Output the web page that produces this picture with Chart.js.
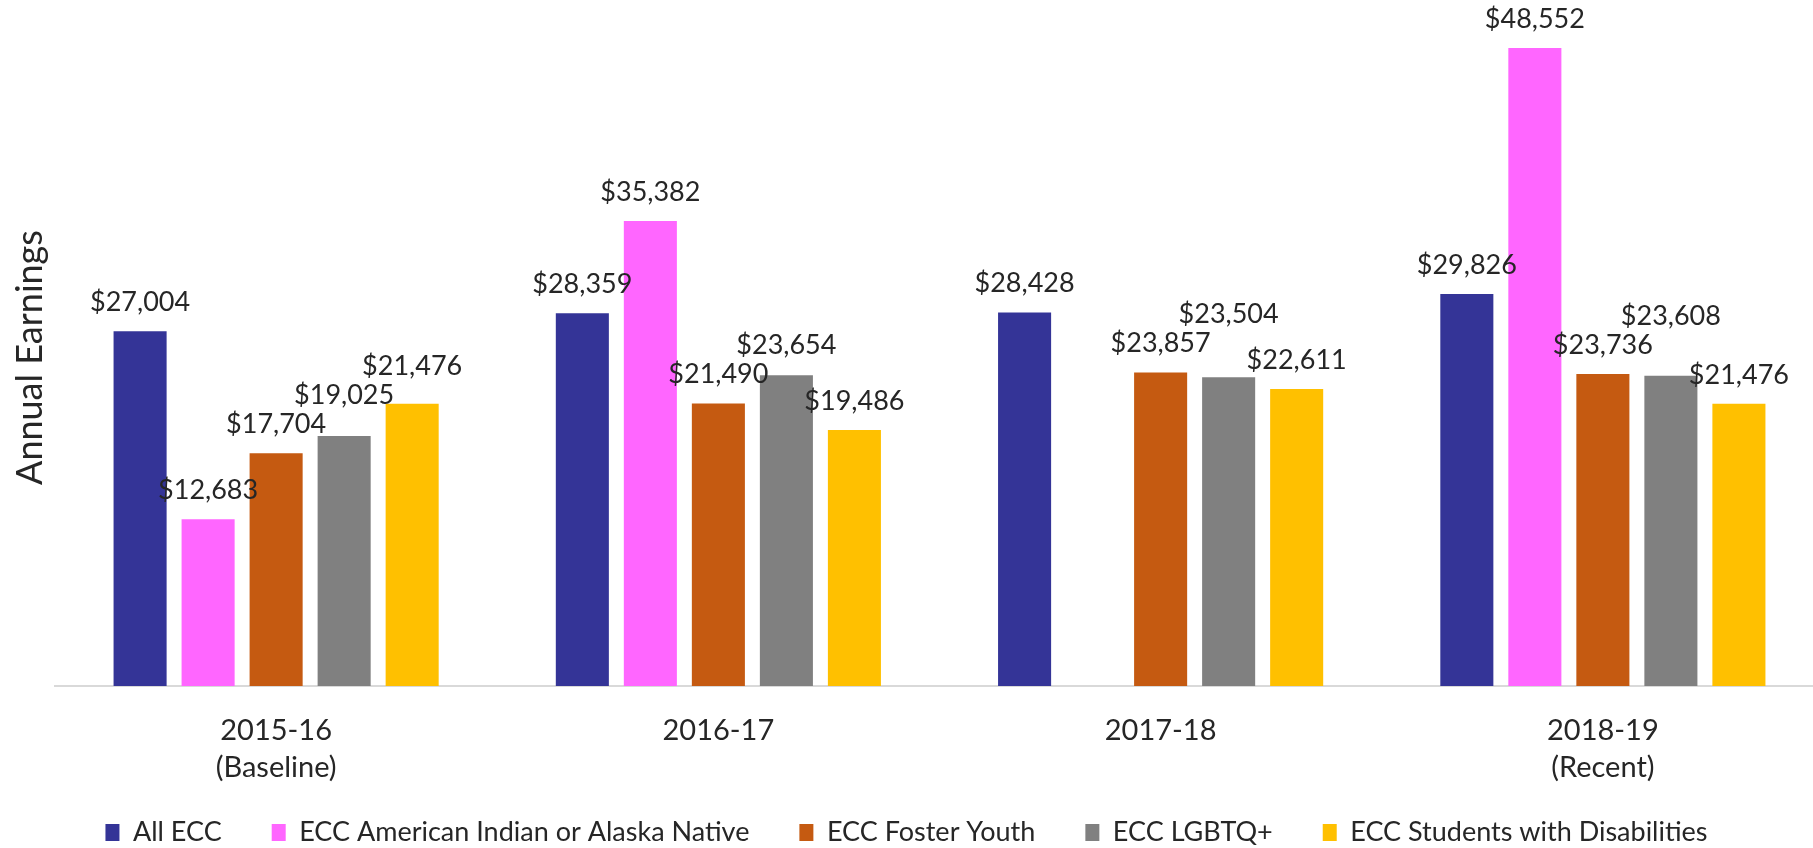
<!DOCTYPE html>
<html>
<head>
<meta charset="utf-8">
<title>Annual Earnings</title>
<script src="https://cdn.jsdelivr.net/npm/chart.js@4.4.1/dist/chart.umd.min.js"></script>
<style>
  html, body { margin: 0; padding: 0; background: #fff; }
  canvas { display: block; }
</style>
</head>
<body>
<canvas id="chart" width="1813" height="848"></canvas>
<script>
// data
const categories = [["2015-16", "(Baseline)"], "2016-17", "2017-18", ["2018-19", "(Recent)"]];
const allEcc       = [27004, 28359, 28428, 29826];
const aian         = [12683, 35382, null, 48552];
const fosterYouth  = [17704, 21490, 23857, 23736];
const lgbtq        = [19025, 23654, 23504, 23608];
const disabilities = [21476, 19486, 22611, 21476];

const FONT = "Lato, 'Open Sans', sans-serif";
const TEXT = "#262626";

const money = (v) => "$" + v.toLocaleString("en-US");

// value labels above the bars, nudged up when they run into the previous one
const valueLabels = {
  id: "valueLabels",
  afterDatasetsDraw(chart) {
    const { ctx } = chart;
    const lineH = 29;
    ctx.save();
    ctx.font = "27px " + FONT;
    ctx.fillStyle = TEXT;
    ctx.textAlign = "center";
    ctx.textBaseline = "middle";
    categories.forEach((c, i) => {
      let prev = null;
      chart.data.datasets.forEach((ds, d) => {
        const v = ds.data[i];
        if (v == null) return;
        const bar = chart.getDatasetMeta(d).data[i];
        const text = money(v);
        const w = ctx.measureText(text).width;
        let y = bar.y - 29;
        if (prev && Math.abs(prev.y - y) < lineH && bar.x - w / 2 < prev.x + prev.w / 2) {
          y = prev.y - lineH;
        }
        ctx.fillText(text, bar.x, y);
        prev = { x: bar.x, y, w };
      });
    });
    ctx.restore();
  }
};

// the plot runs a little past the right edge, and the legend sits higher than chart.js puts it
const excelLayout = {
  id: "excelLayout",
  afterLayout(chart) {
    const x = chart.scales.x;
    x.right += 11;
    x.width += 11;
    x.configure();
    const lg = chart.legend;
    const shift = lg.top + lg.options.labels.padding + 16 - 835;
    lg.top -= shift;
    lg.height = lg.bottom - lg.top;
  }
};

new Chart(document.getElementById("chart"), {
  type: "bar",
  data: {
    labels: categories,
    datasets: [
      { label: "All ECC", data: allEcc, backgroundColor: "#343497" },
      { label: "ECC American Indian or Alaska Native", data: aian, backgroundColor: "#ff66ff" },
      { label: "ECC Foster Youth", data: fosterYouth, backgroundColor: "#c55a11" },
      { label: "ECC LGBTQ+", data: lgbtq, backgroundColor: "#808080" },
      { label: "ECC Students with Disabilities", data: disabilities, backgroundColor: "#ffc000" }
    ]
  },
  options: {
    responsive: false,
    animation: false,
    categoryPercentage: 0.769,
    barPercentage: 0.78,
    layout: { padding: { top: 29, right: 0, bottom: 0, left: 0 } },
    plugins: {
      tooltip: { enabled: false },
      legend: {
        position: "bottom",
        maxHeight: 56,
        labels: {
          color: TEXT,
          font: { family: FONT, size: 27 },
          boxWidth: 14,
          boxHeight: 17,
          padding: 50
        }
      }
    },
    scales: {
      x: {
        grid: { display: false, drawTicks: false },
        border: { display: true, color: "#d9d9d9", width: 2 },
        ticks: { color: TEXT, font: { family: FONT, size: 29, lineHeight: 1.28 }, padding: 26, maxRotation: 0 },
        afterFit: (s) => { s.height = 106; }
      },
      y: {
        min: 0,
        max: 50000,
        grid: { display: false },
        border: { display: false },
        ticks: { display: false },
        title: {
          display: true,
          text: "Annual Earnings",
          color: TEXT,
          font: { family: FONT, size: 36, lineHeight: 1.2 },
          padding: { top: 9, bottom: 3 }
        },
        afterFit: (s) => { s.width = 55; }
      }
    }
  },
  plugins: [valueLabels, excelLayout]
});
</script>
</body>
</html>
